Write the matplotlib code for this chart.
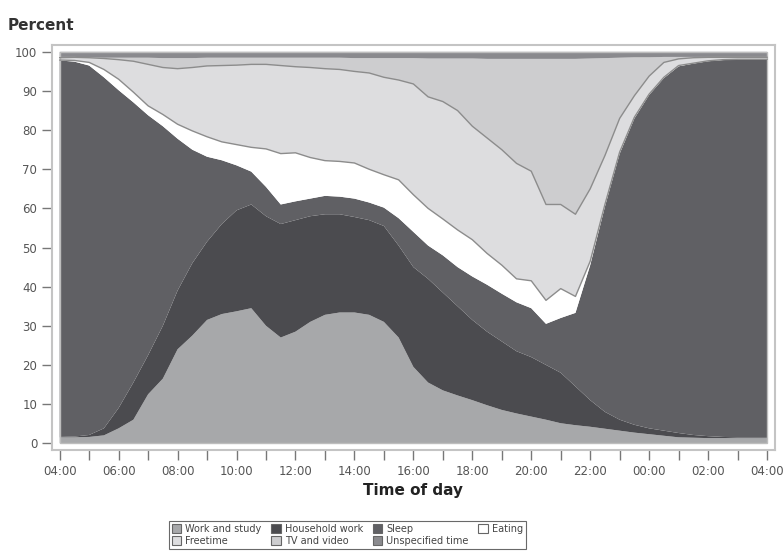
import numpy as np
import matplotlib
matplotlib.use("Agg")
import matplotlib.pyplot as plt
from matplotlib.patches import Patch, Rectangle

# half-hour steps from 04:00 to 04:00 next day
hours = np.arange(0, 24.5, 0.5)

work = [1.5, 1.5, 1.6, 2.0, 3.8, 6.0, 12.5, 16.5, 24.0, 27.5, 31.5, 33.0, 33.7, 34.5,
        30.0, 27.0, 28.5, 31.0, 32.8, 33.4, 33.4, 32.8, 31.0, 27.0, 19.5, 15.5, 13.5,
        12.2, 11.0, 9.7, 8.5, 7.6, 6.8, 6.0, 5.1, 4.6, 4.2, 3.7, 3.2, 2.7, 2.3, 1.9,
        1.5, 1.4, 1.3, 1.3, 1.3, 1.3, 1.3]
household = [0.1, 0.2, 0.5, 1.8, 5.2, 9.5, 10.0, 13.5, 15.0, 18.5, 20.0, 23.0, 25.8, 26.5,
             28.0, 29.0, 28.5, 27.0, 25.7, 25.1, 24.4, 24.2, 24.5, 23.5, 25.5, 26.5, 25.0,
             22.8, 20.5, 18.8, 17.5, 15.9, 15.2, 14.0, 12.9, 9.9, 6.8, 4.3, 2.8, 2.0, 1.5,
             1.3, 1.1, 0.7, 0.5, 0.3, 0.2, 0.2, 0.2]
sleep = [96.2, 95.8, 94.4, 89.7, 81.2, 71.6, 61.3, 51.0, 38.8, 29.0, 21.7, 16.3, 11.5, 8.4,
         7.5, 5.0, 4.8, 4.5, 4.7, 4.5, 4.7, 4.5, 4.7, 7.0, 9.0, 8.5, 9.5,
         10.0, 11.1, 12.0, 12.2, 12.5, 12.5, 10.5, 14.0, 18.8, 34.5, 52.5, 68.0, 78.3, 85.2,
         90.1, 93.7, 94.9, 95.8, 96.3, 96.5, 96.5, 96.5]
eating = [0.1, 0.3, 0.8, 2.0, 2.8, 2.6, 2.4, 3.0, 3.7, 4.8, 5.1, 4.7, 5.3, 6.2,
          9.7, 13.0, 12.4, 10.5, 9.0, 9.0, 9.1, 8.5, 8.4, 9.8, 9.5, 9.5, 9.3,
          9.5, 9.4, 8.0, 7.3, 6.0, 7.0, 6.0, 7.5, 4.2, 1.0, 0.5, 0.4, 0.3, 0.2,
          0.2, 0.2, 0.1, 0.1, 0.1, 0.1, 0.1, 0.1]
freetime = [0.6, 0.8, 1.2, 2.8, 5.0, 7.9, 10.6, 12.0, 14.2, 16.2, 18.1, 19.5, 20.3, 21.2,
            21.6, 22.5, 22.0, 23.0, 23.5, 23.5, 23.4, 24.6, 24.9, 25.5, 28.3, 28.5, 30.0,
            30.5, 29.0, 29.5, 29.5, 29.5, 28.0, 24.5, 21.5, 21.0, 18.5, 12.5, 8.6, 5.5, 4.6,
            3.8, 1.7, 1.4, 0.9, 0.6, 0.5, 0.5, 0.5]
tv_video = [0.2, 0.1, 0.1, 0.2, 0.5, 0.9, 1.7, 2.4, 2.7, 2.4, 2.1, 2.0, 1.9, 1.7,
            1.7, 2.0, 2.3, 2.5, 2.8, 3.0, 3.4, 3.8, 4.9, 5.6, 6.6, 9.8, 11.0,
            13.3, 17.3, 20.2, 23.2, 26.7, 28.7, 37.2, 37.2, 39.7, 33.3, 24.9, 15.5, 9.8, 4.8,
            1.4, 0.5, 0.2, 0.1, 0.1, 0.1, 0.1, 0.1]
unspecified = [1.3, 1.3, 1.4, 1.5, 1.5, 1.5, 1.5, 1.6, 1.6, 1.6, 1.5, 1.5, 1.5, 1.5,
               1.5, 1.5, 1.5, 1.5, 1.5, 1.5, 1.6, 1.6, 1.6, 1.6, 1.6, 1.7, 1.7,
               1.7, 1.7, 1.8, 1.8, 1.8, 1.8, 1.8, 1.8, 1.8, 1.7, 1.6, 1.5, 1.4, 1.4,
               1.3, 1.3, 1.3, 1.3, 1.3, 1.3, 1.3, 1.3]

labels = ["Work and study", "Household work", "Sleep", "Eating",
          "Freetime", "TV and video", "Unspecified time"]
colors = ["#a7a8aa", "#4b4b4f", "#606064", "#ffffff", "#dddddf", "#cdcdcf", "#8a8a8e"]
tick_labels = ["04:00", "06:00", "08:00", "10:00", "12:00", "14:00", "16:00",
               "18:00", "20:00", "22:00", "00:00", "02:00", "04:00"]

fig = plt.figure(figsize=(7.84, 5.6), dpi=100)
ax = fig.add_axes([0.066, 0.196, 0.9225, 0.724])

layers = [work, household, sleep, eating, freetime, tv_video, unspecified]
ax.stackplot(hours, layers, colors=colors, linewidth=0)

# grey outlines on top of eating and freetime
cum = np.cumsum(np.array(layers), axis=0)
ax.plot(hours, cum[3], color="#8c8c8c", lw=1.0)
ax.plot(hours, cum[4], color="#8c8c8c", lw=1.0)

ax.add_patch(Rectangle((0, 0), 24, 100, fill=False, edgecolor="#bdbdbd", lw=1.0))

ax.set_xlim(-0.27, 24.27)
ax.set_ylim(-1.8, 101.8)
ax.set_xticks(np.arange(0, 25, 1))
ax.set_xticklabels([t if i % 2 == 0 else "" for i, t in enumerate(
    [tick_labels[j // 2] if j % 2 == 0 else "" for j in range(25)])])
ax.set_yticks(np.arange(0, 101, 10))
ax.tick_params(axis="both", direction="out", length=7, width=1.0, color="#777777",
               labelsize=8.5, labelcolor="#555555")
for s in ax.spines.values():
    s.set_color("#c4c4c4")
    s.set_linewidth(1.5)

ax.set_xlabel("Time of day", fontsize=11, fontweight="bold", color="#222222", labelpad=4)
fig.text(0.01, 0.955, "Percent", fontsize=11, fontweight="bold", color="#333333",
         ha="left", va="center")

handles = [Patch(facecolor=c, edgecolor="#666666", lw=0.8) for c in colors]
order = [0, 4, 1, 5, 2, 6, 3]
leg = fig.legend([handles[i] for i in order], [labels[i] for i in order],
                 loc="center", bbox_to_anchor=(0.443, 0.045), ncol=4, fontsize=7,
                 frameon=True, fancybox=False, edgecolor="#444444",
                 handlelength=1.0, handleheight=1.0, handletextpad=0.4,
                 columnspacing=1.0, labelspacing=0.2, borderpad=0.3)
leg.get_frame().set_linewidth(0.8)
for t in leg.get_texts():
    t.set_color("#444444")

fig.savefig("out.png", dpi=100)
